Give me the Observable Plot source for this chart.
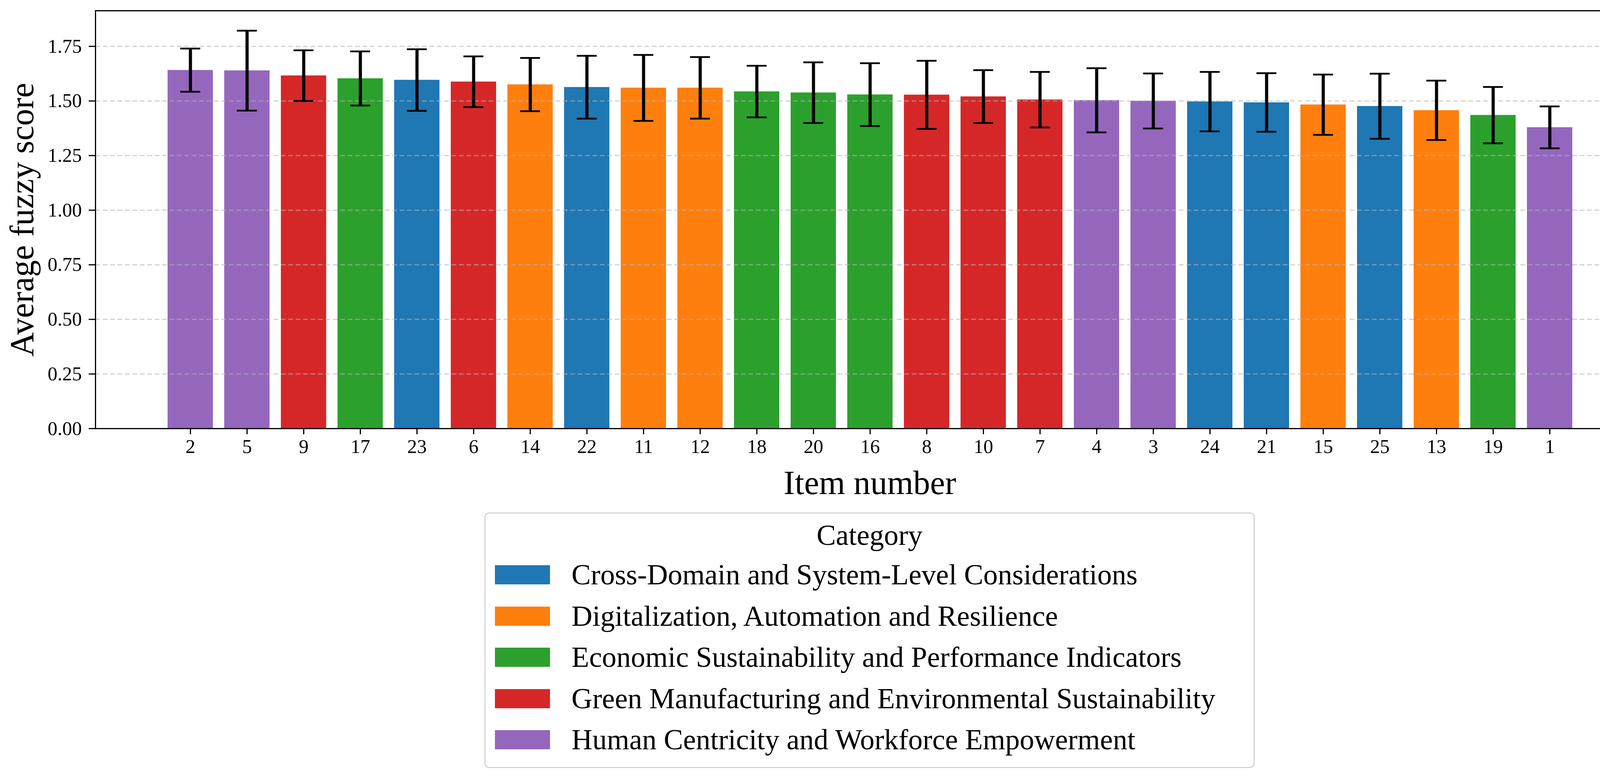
<!DOCTYPE html>
<html>
<head>
<meta charset="utf-8">
<script src="https://cdn.jsdelivr.net/npm/d3@7"></script>
<script src="https://cdn.jsdelivr.net/npm/@observablehq/plot@0.6"></script>
<style>
  html, body { margin: 0; padding: 0; background: #fff; }
  body { width: 4240px; height: 1993px; overflow: hidden; font-family: "Palatino Linotype", "Book Antiqua", Palatino, "Liberation Serif", serif; }
  #chart svg { display: block; }
  .legend {
    box-sizing: border-box;
    margin-left: 1240px;
    margin-top: 21px;
    width: 1972px;
    height: 654px;
    border: 3px solid #d4d4d4;
    border-radius: 12px;
    background: #fff;
    padding-left: 24px;
  }
  .legend-title {
    height: 104px;
    padding-top: 6px;
    box-sizing: border-box;
    display: flex;
    align-items: center;
    justify-content: center;
    font-size: 74px;
    margin-left: -24px;
  }
  .legend-row {
    height: 105.5px;
    display: flex;
    align-items: center;
    font-size: 74px;
  }
  .legend-swatch {
    width: 141px;
    height: 49px;
    margin-right: 55px;
    flex: none;
  }
</style>
</head>
<body>
<div id="chart"></div>
<div id="legend" class="legend"></div>
<script>
// Items in the order shown, sorted by average fuzzy score
const items = ["2", "5", "9", "17", "23", "6", "14", "22", "11", "12", "18", "20", "16",
               "8", "10", "7", "4", "3", "24", "21", "15", "25", "13", "19", "1"];

const means = [1.641, 1.639, 1.616, 1.603, 1.596, 1.588, 1.575, 1.563, 1.560, 1.560, 1.543, 1.538, 1.529,
               1.528, 1.520, 1.506, 1.503, 1.500, 1.497, 1.493, 1.483, 1.476, 1.457, 1.435, 1.379];

// half-width of the error bars
const errors = [0.099, 0.183, 0.116, 0.124, 0.141, 0.116, 0.122, 0.144, 0.151, 0.141, 0.118, 0.139, 0.144,
                0.156, 0.121, 0.127, 0.147, 0.126, 0.136, 0.134, 0.138, 0.149, 0.136, 0.129, 0.096];

const categories = [
  "Cross-Domain and System-Level Considerations",
  "Digitalization, Automation and Resilience",
  "Economic Sustainability and Performance Indicators",
  "Green Manufacturing and Environmental Sustainability",
  "Human Centricity and Workforce Empowerment"
];
const colors = ["#1f77b4", "#ff7f0e", "#2ca02c", "#d62728", "#9467bd"];

// category index of each item (same order as items)
const itemCategory = [4, 4, 3, 2, 0, 3, 1, 0, 1, 1, 2, 2, 2, 3, 3, 3, 4, 4, 0, 0, 1, 0, 1, 2, 4];

const yTicks = [0, 0.25, 0.5, 0.75, 1.0, 1.25, 1.5, 1.75];

const data = items.map((item, i) => ({
  item,
  mean: means[i],
  err: errors[i],
  category: categories[itemCategory[i]]
}));

const serif = '"Palatino Linotype", "Book Antiqua", Palatino, "Liberation Serif", serif';
const yMax = d3.max(data, d => d.mean + d.err) * 1.05;

const chart = Plot.plot({
  width: 4240,
  height: 1290,
  marginTop: 27,
  marginLeft: 244,
  marginRight: 31,
  marginBottom: 194,
  style: { fontFamily: serif, fontSize: "50px", color: "black", background: "white" },
  x: { domain: items, paddingInner: 0.2, paddingOuter: 1.24, label: null },
  y: { domain: [0, yMax], label: null },
  color: { domain: categories, range: colors },
  marks: [
    Plot.barY(data, { x: "item", y: "mean", fill: "category" }),
    // matplotlib draws the grid above the bars, semi-transparent
    Plot.gridY(yTicks.filter(d => d > 0), {
      stroke: "#b4b4b4",
      strokeOpacity: 0.6,
      strokeWidth: 3,
      strokeDasharray: "12,7"
    }),
    Plot.ruleX(data, {
      x: "item",
      y1: d => d.mean - d.err,
      y2: d => d.mean + d.err,
      stroke: "black",
      strokeWidth: 8
    }),
    Plot.tickY(data, { x: "item", y: d => d.mean + d.err, stroke: "black", strokeWidth: 4.5, insetLeft: 32.5, insetRight: 32.5 }),
    Plot.tickY(data, { x: "item", y: d => d.mean - d.err, stroke: "black", strokeWidth: 4.5, insetLeft: 32.5, insetRight: 32.5 }),
    Plot.axisX({ tickSize: 15, tickPadding: 12, strokeWidth: 3, fontSize: 50, label: null }),
    Plot.axisY({ ticks: yTicks, tickSize: 17, tickPadding: 18, strokeWidth: 3, fontSize: 50, tickFormat: d3.format(".2f"), label: null }),
    Plot.frame({ stroke: "black", strokeWidth: 3 }),
    Plot.text(["Item number"], { frameAnchor: "bottom", lineAnchor: "middle", textAnchor: "middle", dy: 140, fontSize: 86, fill: "black" }),
    Plot.text(["Average fuzzy score"], { frameAnchor: "left", textAnchor: "middle", lineAnchor: "middle", dx: -187, rotate: -90, fontSize: 86, fill: "black" })
  ]
});

document.getElementById("chart").appendChild(chart);

// Legend below the chart
const legend = document.getElementById("legend");
const title = document.createElement("div");
title.className = "legend-title";
title.textContent = "Category";
legend.appendChild(title);

categories.forEach((c, i) => {
  const row = document.createElement("div");
  row.className = "legend-row";
  const sw = document.createElement("div");
  sw.className = "legend-swatch";
  sw.style.background = colors[i];
  const label = document.createElement("span");
  label.textContent = c;
  row.appendChild(sw);
  row.appendChild(label);
  legend.appendChild(row);
});
</script>
</body>
</html>
